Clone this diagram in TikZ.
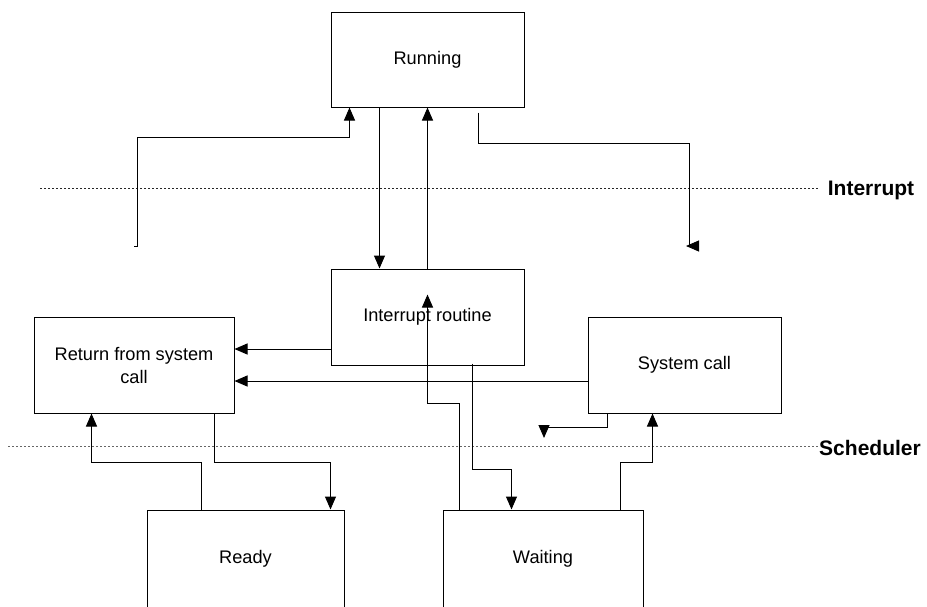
\documentclass[tikz,border=0pt]{standalone}
\usepackage{fontspec}
\setmainfont{Liberation Sans}
\usetikzlibrary{arrows.meta}
\begin{document}
\begin{tikzpicture}[x=1pt,y=-1pt,
  box/.style={draw=black, line width=1pt, rectangle, inner sep=0pt, align=center,
    font=\fontsize{18.2}{23}\selectfont},
  link/.style={draw=black, line width=1pt},
  arr/.style={link, -{Triangle[length=13pt,width=11pt]}},
  level/.style={line width=1pt, dash pattern=on 2pt off 2pt},
  tag/.style={font=\fontsize{21}{24}\selectfont\bfseries}]
\fill[white] (0,0) rectangle (927,606);
\useasboundingbox (0,0) rectangle (927,606);

% state boxes
\node[box, minimum width=193pt, minimum height=95pt] (run) at (427.5,59.5) {Running};
\node[box, minimum width=193pt, minimum height=96pt] (intr) at (427.5,317) {Interrupt routine};
\node[box, minimum width=200pt, minimum height=96pt] (ret) at (134,365) {Return from system\\call};
\node[box, minimum width=193pt, minimum height=96pt] (sys) at (684.5,365) {System call};
\node[box, minimum width=197pt, minimum height=98pt] (ready) at (245.5,559) {Ready};
\node[box, minimum width=200pt, minimum height=98pt] (wait) at (543,559) {Waiting};

% level separators and their labels
\draw[level, draw=black!85] (40,188) -- (818,188);
\node[tag] (intTag) at (871,190) {Interrupt};
\draw[level, draw=black!60] (8,446) -- (820,446);
\node[tag] (schTag) at (870,448) {Scheduler};

% rows used by the orthogonal connectors
\coordinate (y137) at (0,137);
\coordinate (y143) at (0,143);
\coordinate (y403) at (0,403);
\coordinate (y427) at (0,427);
\coordinate (y462) at (0,462);
\coordinate (y469) at (0,469);

% entry points
\coordinate (lfree) at (134,246);
\coordinate (runInL) at ([xshift=19pt]run.south west);
\coordinate (rbend) at (689,246);
\coordinate (rfree) at (686,246);
\coordinate (a1) at ([yshift=-32pt]intr.west);
\coordinate (a2) at ([yshift=-16pt]sys.west);
\coordinate (retIn) at ([xshift=58pt]ret.south west);
\coordinate (rdyIn) at ([xshift=184pt]ready.north west);
\coordinate (wtIn) at ([xshift=69pt]wait.north west);
\coordinate (irIn) at ([yshift=-26pt]intr.north);
\coordinate (sfree) at (544,438);
\coordinate (sysIn) at ([xshift=65pt]sys.south west);

% connectors
\draw[arr] (lfree) -- ++(3,0) |- (runInL |- y137) -- (runInL);
\draw[arr] ([xshift=49pt]run.south west) -- ([xshift=49pt]intr.north west);
\draw[arr] (intr.north) -- (run.south);
\draw[arr] ([xshift=148pt,yshift=-5pt]run.south west) |- (rbend |- y143) -- (rbend) -- (rfree);
\draw[arr] (a1) -- (a1 -| ret.east);
\draw[arr] (a2) -- (a2 -| ret.east);
\draw[arr] ([xshift=55pt]ready.north west) |- (retIn |- y462) -- (retIn);
\draw[arr] ([xshift=181pt]ret.south west) |- (rdyIn |- y462) -- (rdyIn);
\draw[arr] ([xshift=142pt,yshift=2pt]intr.south west) |- (wtIn |- y469) -- (wtIn);
\draw[arr] ([xshift=17pt]wait.north west) |- (irIn |- y403) -- (irIn);
\draw[arr] ([xshift=20pt]sys.south west) |- (sfree |- y427) -- (sfree);
\draw[arr] ([xshift=178pt]wait.north west) |- (sysIn |- y462) -- (sysIn);
\end{tikzpicture}
\end{document}
